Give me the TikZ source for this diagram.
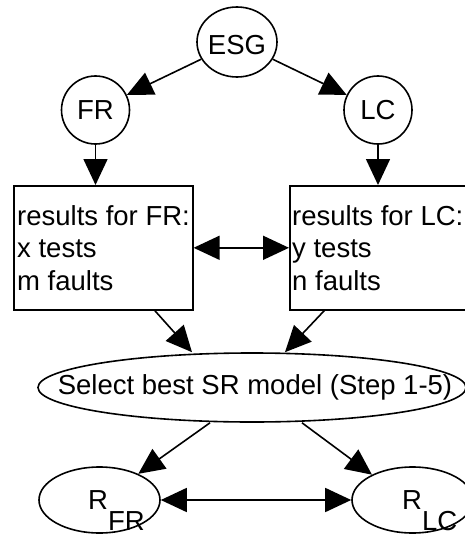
\documentclass[tikz,border=0pt]{standalone}
\usepackage{fontspec}
\setmainfont{Liberation Sans}
\usetikzlibrary{arrows.meta,shapes.geometric}
\begin{document}
\begin{tikzpicture}[x=1pt,y=-1pt,
  every node/.style={font=\fontsize{27.5}{32.5}\selectfont, inner sep=0pt},
  edge/.style={line width=1.6pt, -{Triangle[length=26pt,width=24pt]}},
  twoway/.style={line width=1.6pt, {Triangle[length=26pt,width=24pt]}-{Triangle[length=26pt,width=24pt]}},
  oval/.style={ellipse, draw, line width=1.6pt},
  ring/.style={circle, draw, line width=1.6pt, minimum size=68pt},
  resultbox/.style={rectangle, draw, line width=1.6pt, anchor=north west,
    minimum width=179pt, minimum height=124pt},
  boxtext/.style={anchor=west, align=left}
]
\useasboundingbox (0,0) rectangle (465,535);
\clip (0,0) rectangle (465,535);

% top level
\node[oval, minimum width=80pt, minimum height=70pt] (esg) at (237,42) {};
\node (esgtxt) at (237,45) {ESG};
\node[ring] (fr) at (95.5,110) {FR};
\node[ring] (lc) at (378,110) {LC};

% result boxes
\node[resultbox] (boxfr) at (13,185) {};
\node[resultbox] (boxlc) at (289,185) {};
\node[boxtext] (frtxt) at ([xshift=4pt]boxfr.west) {results for FR:\\x tests\\m faults};
\node[boxtext] (lctxt) at ([xshift=3pt]boxlc.west) {results for LC:\\y tests\\n faults};

% model selection
\node[oval, minimum width=428pt, minimum height=69pt] (sel) at (252,387.5) {};
\node (seltxt) at ([xshift=3pt]sel.center) {Select best SR model (Step 1-5)};

% reliability estimates
\node[oval, minimum width=121pt, minimum height=66pt] (rfr) at (99.5,500) {};
\node[oval, minimum width=121pt, minimum height=66pt] (rlc) at (412.5,500) {};
\node[anchor=base west] (rfrtxt) at (88,509) {R\raisebox{-21pt}{FR}};
\node[anchor=base west] (rlctxt) at (402,509) {R\raisebox{-21pt}{LC}};

% connectors
\draw[edge] (esg) -- (fr);
\draw[edge] (esg) -- (lc);
\draw[edge] (fr.south) -- (fr.south |- boxfr.north);
\draw[edge] (lc.south) -- (lc.south |- boxlc.north);
\draw[twoway] (boxfr.east) -- (boxlc.west);
\draw[edge] ([xshift=51.5pt]boxfr.south) -- ([xshift=-60pt]sel.north);
\draw[edge] ([xshift=-55pt]boxlc.south) -- ([xshift=33pt]sel.north);
\draw[edge] ([xshift=-42pt]sel.south) -- (rfr.34);
\draw[edge] ([xshift=50pt]sel.south) -- (rlc.148);
\draw[twoway] (rfr.east) -- (rlc.west);
\end{tikzpicture}
\end{document}
